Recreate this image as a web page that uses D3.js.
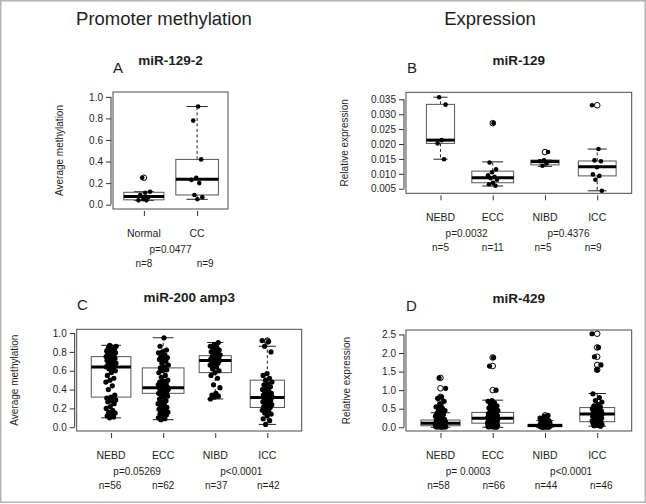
<!DOCTYPE html>
<html><head><meta charset="utf-8">
<script src="https://cdn.jsdelivr.net/npm/d3@7"></script>
<style>
body{margin:0;background:#fff}
svg{display:block}
text{font-family:"Liberation Sans",Arial,Helvetica,sans-serif;fill:#1e1e1e}
</style>
</head><body><svg id="chart" width="646" height="504"></svg>
<script>
// ---------------- DATA ----------------
// Panel A  miR-129-2 promoter methylation
const groupsA = ["Normal", "CC"];
const pointsA = [
  [0.25, 0.12, 0.11, 0.09, 0.07, 0.05, 0.04, 0.04],
  [0.91, 0.78, 0.42, 0.25, 0.23, 0.20, 0.09, 0.07, 0.05]
];
// [lower whisker, q1, median, q3, upper whisker]
const boxA = [[0.04, 0.045, 0.075, 0.115, 0.12], [0.05, 0.09, 0.235, 0.42, 0.91]];
const ticksA = [0, 0.2, 0.4, 0.6, 0.8, 1.0];
const pA = ["p=0.0477"];
const nA = ["n=8", "n=9"];

// Panel B  miR-129 expression
const groupsB = ["NEBD", "ECC", "NIBD", "ICC"];
const pointsB = [
  [0.0357, 0.0332, 0.0213, 0.0202, 0.0149],
  [0.0270, 0.0138, 0.0115, 0.0105, 0.0095, 0.0090, 0.0085, 0.0080, 0.0070, 0.0065, 0.0060],
  [0.0173, 0.0145, 0.0142, 0.0135, 0.0127],
  [0.0330, 0.0183, 0.0145, 0.0142, 0.0122, 0.0098, 0.0093, 0.0080, 0.0043]
];
const boxB = [[0.0149, 0.0202, 0.0213, 0.0333, 0.0357], [0.0059, 0.0070, 0.0087, 0.0109, 0.0140],
              [0.0125, 0.0130, 0.0141, 0.0146, 0.0146], [0.0043, 0.0093, 0.0124, 0.0143, 0.0183]];
const ticksB = [0.005, 0.010, 0.015, 0.020, 0.025, 0.030, 0.035];
const pB = ["p=0.0032", "p=0.4376"];
const nB = ["n=5", "n=11", "n=5", "n=9"];

// Panel C  miR-200 amp3 methylation
const groupsC = ["NEBD", "ECC", "NIBD", "ICC"];
const pointsC = [
  [0.87,0.86,0.85,0.84,0.83,0.82,0.81,0.80,0.80,0.79,0.78,0.78,0.77,0.76,0.75,0.75,0.74,0.73,0.72,0.71,
   0.70,0.69,0.68,0.67,0.66,0.65,0.64,0.64,0.63,0.62,0.60,0.58,0.55,0.52,0.50,0.48,0.44,0.40,0.34,0.32,
   0.31,0.30,0.30,0.29,0.28,0.27,0.25,0.22,0.20,0.18,0.16,0.15,0.14,0.12,0.11,0.10],
  [0.95,0.86,0.82,0.80,0.79,0.77,0.75,0.74,0.73,0.72,0.70,0.68,0.66,0.64,0.63,0.61,0.60,0.58,0.55,0.53,
   0.50,0.49,0.48,0.47,0.46,0.45,0.44,0.43,0.43,0.42,0.42,0.41,0.40,0.40,0.39,0.38,0.37,0.37,0.36,0.35,
   0.34,0.33,0.32,0.30,0.28,0.27,0.25,0.24,0.22,0.21,0.20,0.19,0.18,0.17,0.16,0.15,0.14,0.13,0.12,0.10,
   0.09,0.08],
  [0.90,0.88,0.86,0.85,0.84,0.82,0.81,0.80,0.79,0.78,0.77,0.76,0.75,0.74,0.73,0.72,0.72,0.71,0.71,0.70,
   0.69,0.68,0.67,0.66,0.64,0.62,0.60,0.58,0.55,0.52,0.45,0.42,0.36,0.34,0.33,0.32,0.30],
  [0.92,0.91,0.86,0.80,0.57,0.55,0.52,0.50,0.48,0.46,0.45,0.43,0.41,0.40,0.38,0.37,0.36,0.35,0.34,0.33,
   0.32,0.32,0.31,0.30,0.29,0.28,0.27,0.26,0.25,0.24,0.23,0.22,0.21,0.20,0.18,0.17,0.15,0.14,0.12,0.09,
   0.07,0.03]
];
const boxC = [[0.10, 0.32, 0.64, 0.75, 0.87], [0.08, 0.36, 0.42, 0.63, 0.95],
              [0.30, 0.58, 0.71, 0.76, 0.90], [0.03, 0.21, 0.315, 0.50, 0.86]];
const ticksC = [0, 0.2, 0.4, 0.6, 0.8, 1.0];
const pC = ["p=0.05269", "p<0.0001"];
const nC = ["n=56", "n=62", "n=37", "n=42"];

// Panel D  miR-429 expression
const groupsD = ["NEBD", "ECC", "NIBD", "ICC"];
const pointsD = [
  [1.33,1.05,0.82,0.78,0.70,0.62,0.55,0.50,0.48,0.45,0.42,0.38,0.35,0.32,0.30,0.27,0.25,0.22,0.20,0.19,
   0.18,0.17,0.16,0.15,0.14,0.13,0.12,0.12,0.11,0.11,0.10,0.10,0.09,0.09,0.08,0.08,0.07,0.07,0.06,0.06,
   0.05,0.05,0.05,0.04,0.04,0.04,0.03,0.03,0.03,0.02,0.02,0.02,0.02,0.01,0.01,0.01,0.01,0.00],
  [1.88,1.65,1.00,0.72,0.70,0.66,0.62,0.58,0.55,0.52,0.50,0.47,0.45,0.42,0.40,0.39,0.38,0.36,0.35,0.33,
   0.32,0.31,0.30,0.29,0.28,0.27,0.26,0.25,0.25,0.24,0.24,0.23,0.22,0.21,0.20,0.19,0.18,0.17,0.16,0.15,
   0.15,0.14,0.13,0.12,0.12,0.11,0.11,0.10,0.10,0.09,0.08,0.07,0.06,0.06,0.05,0.05,0.04,0.04,0.03,0.03,
   0.02,0.02,0.01,0.01,0.01,0.00],
  [0.32,0.28,0.25,0.22,0.20,0.18,0.16,0.15,0.14,0.12,0.11,0.10,0.09,0.09,0.08,0.08,0.07,0.07,0.07,0.06,
   0.06,0.06,0.05,0.05,0.05,0.05,0.04,0.04,0.04,0.04,0.03,0.03,0.03,0.03,0.02,0.02,0.02,0.02,0.01,0.01,
   0.01,0.01,0.00,0.00],
  [2.52,2.15,1.90,1.68,1.55,0.90,0.80,0.72,0.68,0.62,0.58,0.55,0.52,0.50,0.48,0.46,0.44,0.42,0.40,0.38,
   0.37,0.36,0.35,0.34,0.33,0.32,0.30,0.28,0.27,0.25,0.23,0.22,0.20,0.18,0.17,0.16,0.15,0.14,0.12,0.11,
   0.10,0.08,0.07,0.05,0.04,0.03]
];
const boxD = [[0.00, 0.04, 0.11, 0.195, 0.39], [0.00, 0.11, 0.24, 0.40, 0.73],
              [0.00, 0.016, 0.05, 0.08, 0.18], [0.03, 0.15, 0.36, 0.53, 0.91]];
const ticksD = [0, 0.5, 1.0, 1.5, 2.0, 2.5];
const pD = ["p= 0.0003", "p<0.0001"];
const nD = ["n=58", "n=66", "n=44", "n=46"];

const headers = ["Promoter methylation", "Expression"];

// ---------------- LAYOUT ----------------
const svg = d3.select("#chart");
svg.append("rect").attr("x", 0.75).attr("y", 0.75).attr("width", 644.5).attr("height", 501.5)
  .attr("fill", "none").attr("stroke", "#b4b4b4").attr("stroke-width", 1.5);

svg.append("text").attr("x", 164).attr("y", 25).attr("text-anchor", "middle")
  .attr("font-size", 18.5).text(headers[0]);
svg.append("text").attr("x", 490).attr("y", 25).attr("text-anchor", "middle")
  .attr("font-size", 18.5).text(headers[1]);

const panels = [
  {letter:"A", title:"miR-129-2", groups:groupsA, pts:pointsA, box:boxA, ticks:ticksA, fmt:".1f",
   ylab:"Average methylation", rect:[113,92,228,209], ydom:[-0.04,1.045], ylabX:63, letterX:113,
   pvals:pA, pPos:[1.5], nvals:nA, nOff:[0,8], jit:0.12, r:2.3},
  {letter:"B", title:"miR-129", groups:groupsB, pts:pointsB, box:boxB, ticks:ticksB, fmt:".3f",
   ylab:"Relative expression", rect:[406,92.3,631.7,193.3], ydom:[0.00346,0.03735], ylabX:348, letterX:407,
   pvals:pB, pPos:[1.5,3.45], nvals:nB, nOff:[0,0,-2,-4], jit:0.1, r:2.3},
  {letter:"C", title:"miR-200 amp3", groups:groupsC, pts:pointsC, box:boxC, ticks:ticksC, fmt:".1f",
   ylab:"Average methylation", rect:[76.7,329.3,301.7,431], ydom:[-0.04,1.04], ylabX:18, letterX:77,
   pvals:pC, pPos:[1.5,3.5], nvals:nC, nOff:[-1,0,1,1], jit:0.1, r:2.6},
  {letter:"D", title:"miR-429", groups:groupsD, pts:pointsD, box:boxD, ticks:ticksD, fmt:".1f",
   ylab:"Relative expression", rect:[406,330,631.7,431], ydom:[-0.1008,2.6208], ylabX:350, letterX:406,
   pvals:pD, pPos:[1.53,3.5], nvals:nD, nOff:[-2,1,1,4], jit:0.1, r:2.6}
];

panels.forEach(P => {
  const [x0, y0, x1, y1] = P.rect;
  const k = P.groups.length;
  const x = d3.scaleLinear().domain([0.5 - 0.04 * k, k + 0.5 + 0.04 * k]).range([x0, x1]);
  const y = d3.scaleLinear().domain(P.ydom).range([y1, y0]);
  const g = svg.append("g");
  const maxN = d3.max(P.pts, d => d.length);

  g.append("rect").attr("x", x0).attr("y", y0).attr("width", x1 - x0).attr("height", y1 - y0)
    .attr("fill", "none").attr("stroke", "#4a4a4a").attr("stroke-width", 1);

  const ya = g.append("g").attr("transform", `translate(${x0 - 2},0)`)
    .call(d3.axisLeft(y).tickValues(P.ticks).tickSize(5).tickPadding(3).tickFormat(d3.format(P.fmt)));
  ya.select(".domain").remove();
  ya.selectAll("line").attr("stroke", "#333");
  ya.selectAll("text").attr("font-size", 10).attr("font-family", "Liberation Sans, Arial, sans-serif").attr("fill", "#222");
  ya.append("line").attr("x1", 0).attr("x2", 0)
    .attr("y1", y(P.ticks[0])).attr("y2", y(P.ticks[P.ticks.length - 1])).attr("stroke", "#333");

  const xa = g.append("g").attr("transform", `translate(0,${y1 + 2})`)
    .call(d3.axisBottom(x).tickValues(d3.range(1, k + 1)).tickSize(5).tickFormat(""));
  xa.select(".domain").remove();
  xa.selectAll("line").attr("stroke", "#333");

  P.box.forEach((b, i) => {
    const c = i + 1;
    const w = 0.8 * Math.sqrt(P.pts[i].length / maxN);
    const [lo, q1, md, q3, hi] = b;
    const bx0 = x(c - w / 2), bx1 = x(c + w / 2);
    g.append("line").attr("x1", x(c)).attr("x2", x(c)).attr("y1", y(q3)).attr("y2", y(hi))
      .attr("stroke", "#222").attr("stroke-dasharray", "3,2.5");
    g.append("line").attr("x1", x(c)).attr("x2", x(c)).attr("y1", y(q1)).attr("y2", y(lo))
      .attr("stroke", "#222").attr("stroke-dasharray", "3,2.5");
    g.append("line").attr("x1", x(c - w / 4)).attr("x2", x(c + w / 4)).attr("y1", y(hi)).attr("y2", y(hi))
      .attr("stroke", "#222");
    g.append("line").attr("x1", x(c - w / 4)).attr("x2", x(c + w / 4)).attr("y1", y(lo)).attr("y2", y(lo))
      .attr("stroke", "#222");
    g.append("rect").attr("x", bx0).attr("y", y(q3)).attr("width", bx1 - bx0).attr("height", y(q1) - y(q3))
      .attr("fill", "#fff").attr("stroke", "#555").attr("stroke-width", 1);
    g.append("line").attr("x1", bx0).attr("x2", bx1).attr("y1", y(md)).attr("y2", y(md))
      .attr("stroke", "#000").attr("stroke-width", 3);
    P.pts[i].filter(v => v > hi + 1e-9 || v < lo - 1e-9).forEach(v => {
      g.append("circle").attr("cx", x(c)).attr("cy", y(v)).attr("r", 2.8)
        .attr("fill", "none").attr("stroke", "#000").attr("stroke-width", 1);
    });
  });

  P.pts.forEach((arr, i) => {
    const c = i + 1;
    arr.forEach((v, j) => {
      const f = ((j * 0.6180339887 + 0.37 + i * 0.21) % 1) * 2 - 1;
      g.append("circle").attr("cx", x(c + f * P.jit)).attr("cy", y(v)).attr("r", P.r).attr("fill", "#000");
    });
  });

  g.append("text").attr("x", (x0 + x1) / 2).attr("y", y0 - 27).attr("text-anchor", "middle")
    .attr("font-size", 13.5).attr("font-weight", "bold").text(P.title);
  g.append("text").attr("x", P.letterX).attr("y", y0 - 19).attr("font-size", 15).text(P.letter);

  g.append("text").attr("transform", `translate(${P.ylabX},${(y0 + y1) / 2}) rotate(-90)`)
    .attr("text-anchor", "middle").attr("font-size", 10).text(P.ylab);

  P.groups.forEach((lab, i) => {
    g.append("text").attr("x", x(i + 1)).attr("y", y1 + 28).attr("text-anchor", "middle")
      .attr("font-size", 10.5).text(lab);
  });
  P.pvals.forEach((t, i) => {
    g.append("text").attr("x", x(P.pPos[i])).attr("y", y1 + 43.5).attr("text-anchor", "middle")
      .attr("font-size", 10).text(t);
  });
  P.nvals.forEach((t, i) => {
    g.append("text").attr("x", x(i + 1) + P.nOff[i]).attr("y", y1 + 57.5).attr("text-anchor", "middle")
      .attr("font-size", 10).text(t);
  });
});
</script></body></html>
